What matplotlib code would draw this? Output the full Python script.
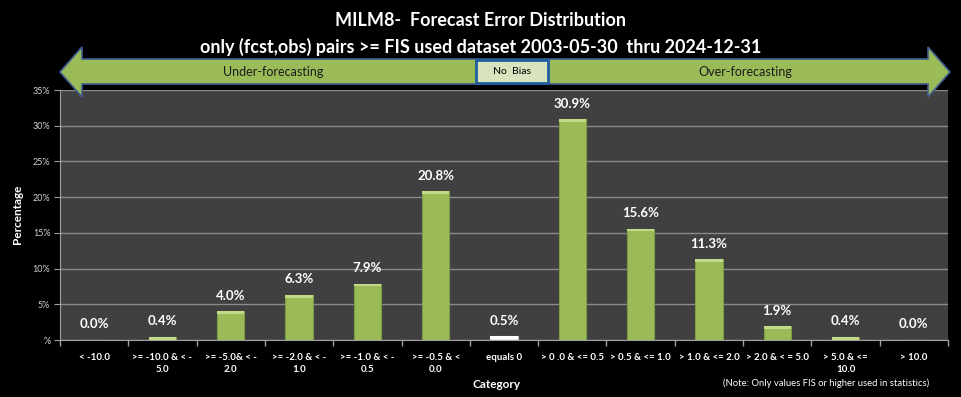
import matplotlib
matplotlib.use("Agg")
import matplotlib.pyplot as plt
from matplotlib.patches import Polygon, Rectangle
import numpy as np

categories = ["< -10.0", ">= -10.0 & < -\n5.0", ">= -5.0& < -\n2.0", ">= -2.0 & < -\n1.0",
              ">= -1.0 & < -\n0.5", ">= -0.5 & <\n0.0", "equals 0", "> 0 .0 & <= 0.5",
              "> 0.5 & <= 1.0", "> 1.0 & <= 2.0", "> 2.0 & < = 5.0", "> 5.0 & <=\n10.0", "> 10.0"]
values = [0.0, 0.4, 4.0, 6.3, 7.9, 20.8, 0.5, 30.9, 15.6, 11.3, 1.9, 0.4, 0.0]
yticks = [0, 5, 10, 15, 20, 25, 30, 35]
ytick_labels = ["%", "5%", "10%", "15%", "20%", "25%", "30%", "35%"]

FONT = ["Lato", "DejaVu Sans"]
plt.rcParams["font.family"] = FONT

fig = plt.figure(figsize=(9.61, 3.97), dpi=100, facecolor="black")
ax = fig.add_axes([60/961, 57/397, 888/961, 250/397])
ax.set_facecolor("#404040")

x = np.arange(len(values))
colors = ["#F0F0E4" if c == "equals 0" else "#9BBB59" for c in categories]
edges = ["#C8C8B8" if c == "equals 0" else "#7E9C43" for c in categories]
ax.bar(x, values, width=0.4, color=colors, edgecolor=edges, linewidth=0.8, zorder=3)
# top bevel highlight
hl = [min(v, 0.4) for v in values]
hl_col = ["#FFFFFF" if c == "equals 0" else "#C2D88A" for c in categories]
ax.bar(x, hl, width=0.4, bottom=[v - h for v, h in zip(values, hl)], color=hl_col,
       linewidth=0, zorder=4)

for xi, v in zip(x, values):
    ax.annotate(f"{v:.1f}%", (xi, v), xytext=(0, 7), textcoords="offset points",
                ha="center", va="bottom", color="white", fontsize=9.5, fontweight="bold")

ax.set_xlim(-0.5, len(values) - 0.5)
ax.set_ylim(0, 35)
ax.set_yticks(yticks)
ax.set_yticklabels(ytick_labels, color="#D0D0D0", fontsize=6.5)
ax.yaxis.grid(True, color="#8A8A8A", linewidth=1, zorder=0)
ax.set_axisbelow(True)
ax.set_xticks(x)
ax.set_xticklabels(categories, color="white", fontsize=7, fontweight="bold", linespacing=1.5)
ax.set_xticks(np.arange(-0.5, len(values), 1), minor=True)
ax.tick_params(axis="x", which="major", length=0, pad=9)
ax.tick_params(axis="x", which="minor", length=4, color="#A0A0A0", width=1)
ax.tick_params(axis="y", length=4, color="#A0A0A0", pad=3)
for s in ["top", "right"]:
    ax.spines[s].set_visible(False)
ax.spines["left"].set_color("#A0A0A0")
ax.spines["bottom"].set_color("#A0A0A0")

fig.text(497/961, 1 - 384/397, "Category", color="white", fontsize=8.5, fontweight="bold",
         ha="center", va="center")
fig.text(17/961, 1 - 214/397, "Percentage", color="white", fontsize=8.5, fontweight="bold",
         ha="center", va="center", rotation=90)
fig.text(826/961, 1 - 383/397, "(Note: Only values FIS or higher used in statistics)",
         color="white", fontsize=6.8, ha="center", va="center")

fig.text(0.5, 1 - 21/397, "MILM8-  Forecast Error Distribution", color="white",
         fontsize=13, fontweight="bold", ha="center", va="center")
fig.text(0.5, 1 - 47/397, "only (fcst,obs) pairs >= FIS used dataset 2003-05-30  thru 2024-12-31",
         color="white", fontsize=13, fontweight="bold", ha="center", va="center")

def P(px, py):
    return (px / 961, 1 - py / 397)

arrow_pts = [P(60, 72), P(82, 47), P(82, 59), P(928, 59), P(928, 47), P(950, 72),
             P(928, 97), P(928, 84), P(82, 84), P(82, 97)]
fig.patches.append(Polygon(arrow_pts, closed=True, transform=fig.transFigure,
                           facecolor="#9BBB59", edgecolor="#3F5F8F", linewidth=1.2, zorder=5))
bx0, by0 = P(476, 83)
bx1, by1 = P(548, 60)
fig.patches.append(Rectangle((bx0, by0), bx1 - bx0, by1 - by0, transform=fig.transFigure,
                             facecolor="#D7E4BD", edgecolor="#1F5F9F", linewidth=2, zorder=6))
fig.text(512/961, 1 - 71.5/397, "No  Bias", color="black", fontsize=7.5, ha="center",
         va="center", zorder=7)
fig.text(273/961, 1 - 72/397, "Under-forecasting", color="#1A1A1A", fontsize=9,
         ha="center", va="center", zorder=7)
fig.text(745/961, 1 - 72/397, "Over-forecasting", color="#1A1A1A", fontsize=9,
         ha="center", va="center", zorder=7)

fig.savefig("out.png", dpi=100, facecolor="black")
